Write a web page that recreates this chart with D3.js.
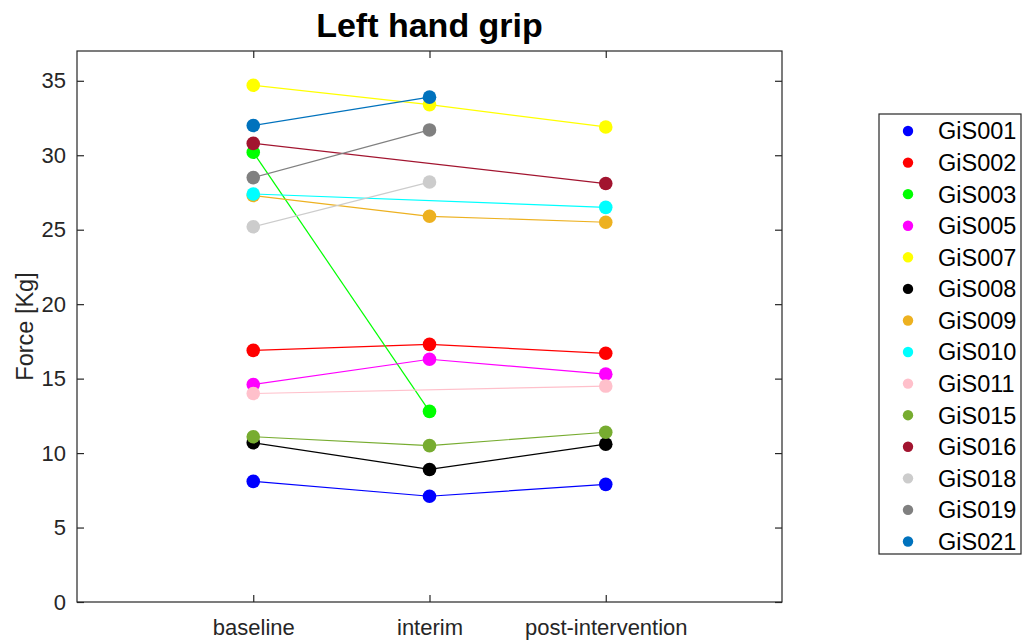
<!DOCTYPE html>
<html><head><meta charset="utf-8">
<script src="https://cdn.jsdelivr.net/npm/d3@7"></script>
<style>
body{margin:0;background:#fff;}
svg{display:block;font-family:"Liberation Sans",Arial,Helvetica,sans-serif;}
</style></head>
<body>
<svg id="chart" width="1022" height="642"></svg>
<script>
const categories = ["baseline", "interim", "post-intervention"];
const subjects = ["GiS001","GiS002","GiS003","GiS005","GiS007","GiS008","GiS009","GiS010","GiS011","GiS015","GiS016","GiS018","GiS019","GiS021"];
const colors = ["#0000FF","#FF0000","#00FF00","#FF00FF","#FFFF00","#000000","#EDB120","#00FFFF","#FFC0CB","#77AC30","#A2142F","#CCCCCC","#808080","#0072BD"];
const gis001 = [8.1, 7.1, 7.9];
const gis002 = [16.9, 17.3, 16.7];
const gis003 = [30.2, 12.8, null];
const gis005 = [14.6, 16.3, 15.3];
const gis007 = [34.7, 33.4, 31.9];
const gis008 = [10.7, 8.9, 10.6];
const gis009 = [27.3, 25.9, 25.5];
const gis010 = [27.4, null, 26.5];
const gis011 = [14.0, null, 14.5];
const gis015 = [11.1, 10.5, 11.4];
const gis016 = [30.8, null, 28.1];
const gis018 = [25.2, 28.2, null];
const gis019 = [28.5, 31.7, null];
const gis021 = [32.0, 33.9, null];
const seriesValues = [gis001,gis002,gis003,gis005,gis007,gis008,gis009,gis010,gis011,gis015,gis016,gis018,gis019,gis021];
const yTicks = [0,5,10,15,20,25,30,35];
const title = "Left hand grip";
const yLabel = "Force [Kg]";

const svg = d3.select("#chart");
const L = 77, R = 782, T = 51, B = 602;
const axisColor = "#262626";

const x = d3.scaleLinear().domain([0, 4]).range([L, R]);
const y = d3.scaleLinear().domain([0, 37]).range([B, T]);

// box
svg.append("rect").attr("x", L).attr("y", T).attr("width", R - L).attr("height", B - T)
  .attr("fill", "#fff").attr("stroke", axisColor).attr("stroke-width", 1.2);

const tickLen = 7;
// y ticks left and right
const yAxisL = d3.axisLeft(y).tickValues(yTicks).tickSizeInner(-tickLen).tickSizeOuter(0).tickPadding(11);
const gy = svg.append("g").attr("transform", `translate(${L},0)`).call(yAxisL);
gy.select(".domain").remove();
gy.selectAll("line").attr("stroke", axisColor).attr("stroke-width", 1.2);
gy.selectAll("text").attr("fill", axisColor).style("font-size", "22px").attr("font-family", null);

const yAxisR = d3.axisRight(y).tickValues(yTicks).tickSizeInner(-tickLen).tickSizeOuter(0).tickFormat("");
const gyr = svg.append("g").attr("transform", `translate(${R},0)`).call(yAxisR);
gyr.select(".domain").remove();
gyr.selectAll("line").attr("stroke", axisColor).attr("stroke-width", 1.2);

// x ticks bottom and top
const xAxisB = d3.axisBottom(x).tickValues([1,2,3]).tickFormat((d) => categories[d - 1])
  .tickSizeInner(-tickLen).tickSizeOuter(0).tickPadding(17);
const gx = svg.append("g").attr("transform", `translate(0,${B})`).call(xAxisB);
gx.select(".domain").remove();
gx.selectAll("line").attr("stroke", axisColor).attr("stroke-width", 1.2);
gx.selectAll("text").attr("fill", axisColor).style("font-size", "22px").attr("font-family", null);

const xAxisT = d3.axisTop(x).tickValues([1,2,3]).tickFormat("").tickSizeInner(-tickLen).tickSizeOuter(0);
const gxt = svg.append("g").attr("transform", `translate(0,${T})`).call(xAxisT);
gxt.select(".domain").remove();
gxt.selectAll("line").attr("stroke", axisColor).attr("stroke-width", 1.2);

// series
const line = d3.line().x(d => x(d.i + 1)).y(d => y(d.v));
seriesValues.forEach((vals, si) => {
  const pts = vals.map((v, i) => ({i, v})).filter(d => d.v !== null);
  const g = svg.append("g");
  g.append("path").datum(pts).attr("d", line).attr("fill", "none")
    .attr("stroke", colors[si]).attr("stroke-width", 1.2);
  g.selectAll("circle").data(pts).join("circle")
    .attr("cx", d => x(d.i + 1)).attr("cy", d => y(d.v)).attr("r", 6.8)
    .attr("fill", colors[si]);
});

// title
svg.append("text").attr("x", (L + R) / 2).attr("y", 37).attr("text-anchor", "middle")
  .style("font-size", "34px").style("font-weight", "bold").attr("fill", "#000").text(title);

// y label
svg.append("text").attr("transform", `translate(33,${(T + B) / 2}) rotate(-90)`)
  .attr("text-anchor", "middle").style("font-size", "23.5px").attr("fill", axisColor).text(yLabel);

// legend
const lg = svg.append("g");
lg.append("rect").attr("x", 879).attr("y", 114).attr("width", 142).attr("height", 440)
  .attr("fill", "#fff").attr("stroke", axisColor).attr("stroke-width", 1.2);
const ly = d3.scalePoint().domain(subjects).range([131, 541.5]);
subjects.forEach((s, i) => {
  lg.append("circle").attr("cx", 908).attr("cy", ly(s)).attr("r", 5.2).attr("fill", colors[i]);
  lg.append("text").attr("x", 938).attr("y", ly(s)).attr("dy", "0.36em")
    .style("font-size", "23.5px").attr("fill", "#000").text(s);
});
</script>
</body></html>
